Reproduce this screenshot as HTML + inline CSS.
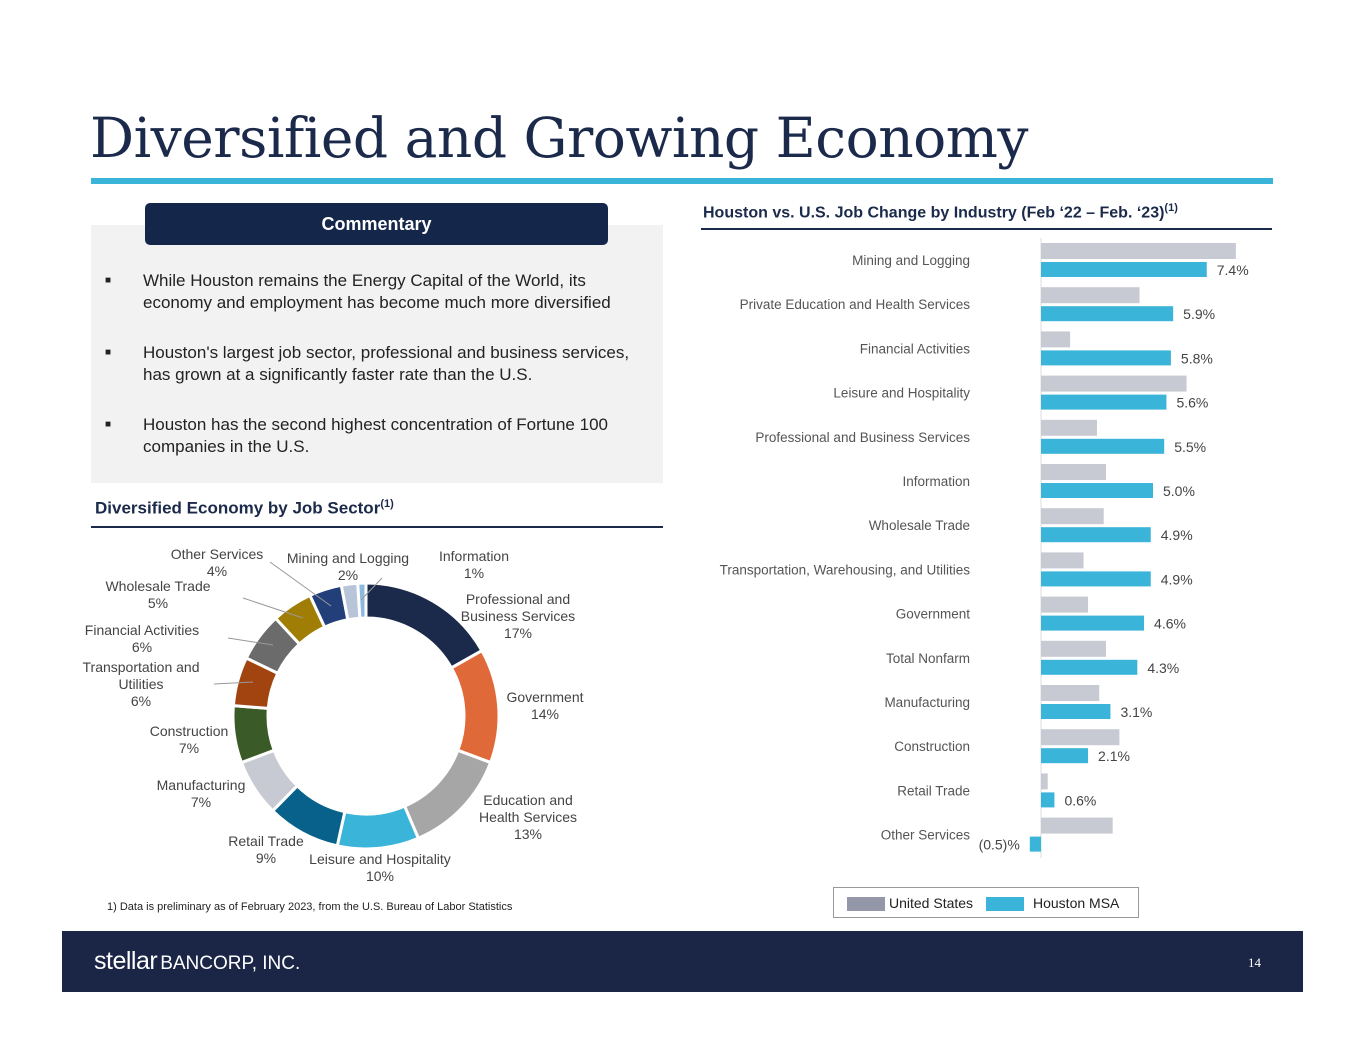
<!DOCTYPE html>
<html><head><meta charset="utf-8"><style>
*{margin:0;padding:0;box-sizing:border-box}
body{width:1365px;height:1055px;background:#fff;position:relative;overflow:hidden;font-family:"Liberation Sans",sans-serif}
.abs{position:absolute}
</style></head><body>
<div class="abs" style="left:90px;top:106px;font-family:'DejaVu Serif','Liberation Serif',serif;font-size:55px;color:#1b2a4a;white-space:nowrap;letter-spacing:-0.5px">Diversified and Growing Economy</div>
<div class="abs" style="left:91px;top:178px;width:1182px;height:6px;background:#3ab4d8"></div>

<div class="abs" style="left:91px;top:225px;width:572px;height:258px;background:#f2f2f2"></div>
<div class="abs" style="left:145px;top:203px;width:463px;height:42px;background:#14264a;border-radius:5px;color:#fff;font-weight:bold;font-size:18px;text-align:center;line-height:42px">Commentary</div>
<div class="abs" style="left:105px;top:270px;width:550px;font-size:17px;line-height:22px;color:#222">
<div style="position:relative;padding-left:38px;margin-bottom:28px"><span style="position:absolute;left:0;font-size:10px">■</span>While Houston remains the Energy Capital of the World, its economy and employment has become much more diversified</div>
<div style="position:relative;padding-left:38px;margin-bottom:28px"><span style="position:absolute;left:0;font-size:10px">■</span>Houston's largest job sector, professional and business services, has grown at a significantly faster rate than the U.S.</div>
<div style="position:relative;padding-left:38px"><span style="position:absolute;left:0;font-size:10px">■</span>Houston has the second highest concentration of Fortune 100 companies in the U.S.</div>
</div>

<div class="abs" style="left:95px;top:498px;font-size:17px;font-weight:bold;color:#1b2a4a">Diversified Economy by Job Sector<sup style="font-size:11px">(1)</sup></div>
<div class="abs" style="left:91px;top:526px;width:572px;height:2px;background:#1b2a4a"></div>

<div class="abs" style="left:703px;top:202px;font-size:16px;font-weight:bold;color:#1b2a4a">Houston vs. U.S. Job Change by Industry (Feb ‘22 – Feb. ‘23)<sup style="font-size:11px">(1)</sup></div>
<div class="abs" style="left:701px;top:228px;width:571px;height:2px;background:#1b2a4a"></div>

<svg class="abs" style="left:0;top:0" width="1365" height="1055" id="charts"></svg>

<div class="abs" style="left:107px;top:901px;font-size:11px;color:#222">1) Data is preliminary as of February 2023, from the U.S. Bureau of Labor Statistics</div>

<div class="abs" style="left:833px;top:887px;width:306px;height:31px;border:1px solid #999;background:#fff;font-size:14px;color:#222">
<span class="abs" style="left:13px;top:9px;width:38px;height:14px;background:#9497a8"></span>
<span class="abs" style="left:55px;top:7px">United States</span>
<span class="abs" style="left:152px;top:9px;width:38px;height:14px;background:#3ab4d8"></span>
<span class="abs" style="left:199px;top:7px">Houston MSA</span>
</div>

<div class="abs" style="left:62px;top:931px;width:1241px;height:61px;background:#1b2647"></div>
<div class="abs" style="left:94px;top:947px;color:#fff;white-space:nowrap"><span style="font-size:25px;letter-spacing:-0.5px">stellar</span><span style="font-size:19px;margin-left:3px">BANCORP, INC.</span></div>
<div class="abs" style="left:1248px;top:955px;color:#fff;font-family:'Liberation Serif',serif;font-size:13px">14</div>

<script>
const sectors=["Professional and Business Services","Government","Education and Health Services","Leisure and Hospitality","Retail Trade","Manufacturing","Construction","Transportation and Utilities","Financial Activities","Wholesale Trade","Other Services","Mining and Logging","Information"];
const shares=[17,14,13,10,9,7,7,6,6,5,4,2,1];
const sectorColors=["#1b2a4a","#e0693a","#a6a6a6","#3ab4d8","#07618a","#c8cad3","#3a5a27","#a2440f","#6b6b6b","#a07d05","#223f7a","#b8c4d8","#8db8e0"];

const industries=["Mining and Logging","Private Education and Health Services","Financial Activities","Leisure and Hospitality","Professional and Business Services","Information","Wholesale Trade","Transportation, Warehousing, and Utilities","Government","Total Nonfarm","Manufacturing","Construction","Retail Trade","Other Services"];
const usValues=[8.7,4.4,1.3,6.5,2.5,2.9,2.8,1.9,2.1,2.9,2.6,3.5,0.3,3.2];
const houstonValues=[7.4,5.9,5.8,5.6,5.5,5.0,4.9,4.9,4.6,4.3,3.1,2.1,0.6,-0.5];
const houstonLabels=["7.4%","5.9%","5.8%","5.6%","5.5%","5.0%","4.9%","4.9%","4.6%","4.3%","3.1%","2.1%","0.6%","(0.5)%"];

const NS="http://www.w3.org/2000/svg";
const svg=document.getElementById('charts');
function mk(t,a){const e=document.createElementNS(NS,t);for(const k in a)e.setAttribute(k,a[k]);svg.appendChild(e);return e;}

// donut
const cx=366,cy=716,R=133,r=98;
const total=shares.reduce((a,b)=>a+b,0);
let acc=0;
function pt(rad,ang){return [cx+rad*Math.sin(ang),cy-rad*Math.cos(ang)];}
shares.forEach((v,i)=>{
  const a0=acc/total*2*Math.PI;acc+=v;const a1=acc/total*2*Math.PI;
  const lg=(a1-a0)>Math.PI?1:0;
  const p0=pt(R,a0),p1=pt(R,a1),p2=pt(r,a1),p3=pt(r,a0);
  const p=mk('path',{d:`M${p0}A${R},${R} 0 ${lg} 1 ${p1}L${p2}A${r},${r} 0 ${lg} 0 ${p3}Z`,fill:sectorColors[i],stroke:'#fff','stroke-width':3});
  
  
});
// donut labels
const dl=[
 [518,604,"Professional and","Business Services","17%"],
 [545,702,"Government","14%"],
 [528,805,"Education and","Health Services","13%"],
 [380,864,"Leisure and Hospitality","10%"],
 [266,846,"Retail Trade","9%"],
 [201,790,"Manufacturing","7%"],
 [189,736,"Construction","7%"],
 [141,672,"Transportation and","Utilities","6%"],
 [142,635,"Financial Activities","6%"],
 [158,591,"Wholesale Trade","5%"],
 [217,559,"Other Services","4%"],
 [348,563,"Mining and Logging","2%"],
 [474,561,"Information","1%"]];
dl.forEach(d=>{
  const t=mk('text',{x:d[0],y:d[1],'text-anchor':'middle','font-size':14,fill:'#444','font-family':'Liberation Sans, sans-serif'});
  
  
  d.slice(2).forEach((s,j)=>{const ts=document.createElementNS(NS,'tspan');ts.setAttribute('x',d[0]);ts.setAttribute('dy',j?17:0);ts.textContent=s;t.appendChild(ts);});
});
[[214,684,253,682],[228,638,273,645],[243,598,303,618],[270,562,331,606],[382,578,361,600]].forEach(l=>{
  const e=mk('line',{x1:l[0],y1:l[1],x2:l[2],y2:l[3],stroke:'#999','stroke-width':1});
  
  
});

// bars
const x0=1041,scale=22.4,pitch=44.2;
function xs(v){return x0+v*scale;}
const ax=mk('line',{x1:x0,y1:238,x2:x0,y2:858,stroke:'#ddd','stroke-width':1});


industries.forEach((n,i)=>{
  const yg=243+i*pitch, yb=262+i*pitch;
  const g=mk('rect',{x:Math.min(xs(0),xs(usValues[i])),y:yg,width:Math.abs(usValues[i]*scale),height:16,fill:'#c8cad3'});
  
  
  const b=mk('rect',{x:Math.min(xs(0),xs(houstonValues[i])),y:yb,width:Math.abs(houstonValues[i]*scale),height:15,fill:'#3ab4d8'});
  
  
  const lab=mk('text',{x:970,y:265+i*pitch,'text-anchor':'end','font-size':13.5,fill:'#555','font-family':'Liberation Sans, sans-serif'});
  lab.textContent=n;
  
  
  const v=houstonValues[i];
  const vl=mk('text',{x:v>=0?xs(v)+10:xs(v)-10,y:yb+13,'text-anchor':v>=0?'start':'end','font-size':14,fill:'#444','font-family':'Liberation Sans, sans-serif'});
  vl.textContent=houstonLabels[i];
  
  
});
</script>
</body></html>
